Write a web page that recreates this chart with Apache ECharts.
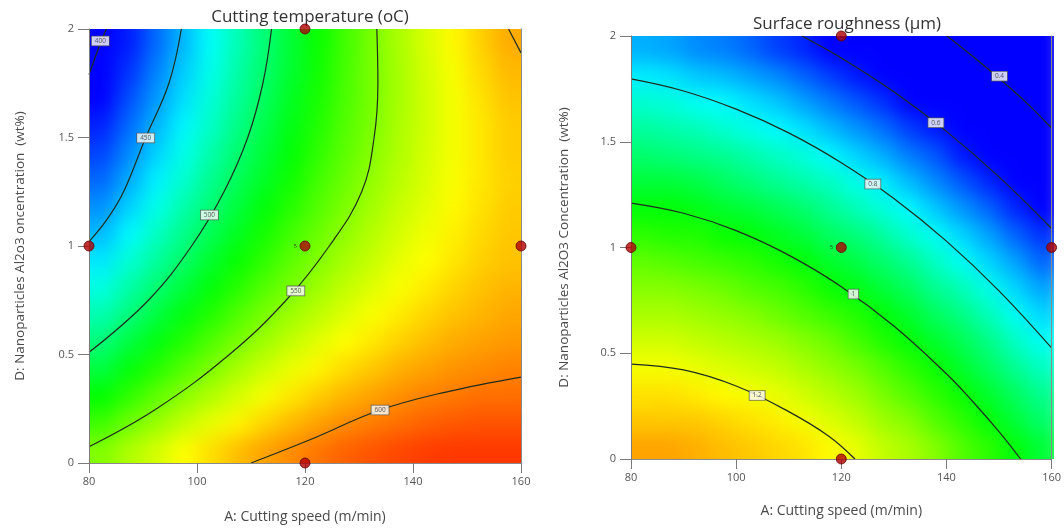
<!doctype html>
<html>
<head>
  <meta charset="UTF-8" />
  <title>Contour plots</title>
  <script src="https://cdn.jsdelivr.net/npm/echarts@6/dist/echarts.min.js"></script>
  <style>
    html, body { margin: 0; padding: 0; background: #ffffff; }
    #wrap { position: relative; width: 1064px; height: 531px; }
    #field, #chart { position: absolute; left: 0; top: 0; width: 1064px; height: 531px; }
    /* soften the cell edges of the response grid, kept inside the two plot areas */
    #field {
      filter: blur(10px);
      clip-path: path("M89 29 H521 V463 H89 Z M631 36 H1054 V459 H631 Z");
    }
  </style>
</head>
<body>
  <div id="wrap">
    <div id="field"></div>
    <div id="chart"></div>
  </div>
  <script>
    // cell centres of the response grids (A: cutting speed, D: Al2O3 wt%)
    const xCells = [82.5, 87.5, 92.5, 97.5, 102.5, 107.5, 112.5, 117.5, 122.5, 127.5, 132.5, 137.5, 142.5, 147.5, 152.5, 157.5];
    const yCells = [0.0625, 0.1875, 0.3125, 0.4375, 0.5625, 0.6875, 0.8125, 0.9375, 1.0625, 1.1875, 1.3125, 1.4375, 1.5625, 1.6875, 1.8125, 1.9375];

    // cutting temperature, rows from bottom (D = 0) to top (D = 2)
    const tempGrid = [
      [550, 560, 568, 577, 584, 591, 597, 602, 607, 611, 614, 617, 619, 620, 620, 620],
      [535, 546, 555, 564, 572, 579, 586, 592, 597, 602, 605, 608, 611, 613, 614, 614],
      [522, 532, 542, 552, 560, 568, 575, 582, 588, 593, 597, 601, 604, 606, 608, 608],
      [508, 520, 530, 540, 549, 558, 566, 573, 579, 585, 589, 594, 597, 600, 602, 604],
      [496, 508, 519, 529, 539, 548, 556, 564, 571, 577, 582, 587, 591, 595, 597, 599],
      [484, 496, 508, 519, 529, 539, 548, 556, 563, 570, 576, 581, 586, 590, 593, 596],
      [473, 486, 498, 509, 520, 530, 540, 548, 556, 564, 570, 576, 581, 586, 590, 593],
      [462, 476, 488, 500, 512, 523, 532, 542, 550, 558, 565, 572, 577, 582, 587, 590],
      [452, 466, 480, 492, 504, 515, 526, 536, 545, 553, 561, 568, 574, 580, 585, 589],
      [443, 457, 471, 485, 497, 509, 520, 530, 540, 549, 557, 565, 571, 578, 583, 588],
      [434, 449, 464, 477, 491, 503, 514, 525, 536, 545, 554, 562, 569, 576, 582, 587],
      [426, 442, 457, 471, 485, 498, 510, 521, 532, 542, 551, 560, 568, 575, 582, 588],
      [419, 435, 451, 465, 479, 493, 506, 518, 529, 540, 549, 559, 567, 575, 582, 588],
      [412, 429, 445, 460, 475, 489, 502, 515, 527, 538, 548, 558, 567, 575, 583, 590],
      [406, 423, 440, 456, 471, 486, 499, 512, 525, 537, 548, 558, 568, 576, 585, 592],
      [400, 418, 435, 452, 468, 483, 497, 511, 524, 536, 548, 559, 569, 578, 587, 595]
    ];

    // surface roughness, rows from bottom to top
    const roughGrid = [
      [1.28, 1.28, 1.27, 1.26, 1.25, 1.24, 1.23, 1.21, 1.19, 1.16, 1.14, 1.11, 1.07, 1.04, 1.00, 0.96],
      [1.25, 1.25, 1.25, 1.24, 1.23, 1.22, 1.20, 1.18, 1.16, 1.13, 1.11, 1.07, 1.04, 1.00, 0.96, 0.92],
      [1.23, 1.23, 1.22, 1.21, 1.20, 1.19, 1.17, 1.15, 1.13, 1.10, 1.07, 1.04, 1.01, 0.97, 0.93, 0.89],
      [1.20, 1.20, 1.19, 1.18, 1.17, 1.16, 1.14, 1.12, 1.10, 1.07, 1.04, 1.01, 0.97, 0.93, 0.89, 0.85],
      [1.17, 1.17, 1.16, 1.15, 1.14, 1.13, 1.11, 1.09, 1.06, 1.03, 1.00, 0.97, 0.94, 0.90, 0.85, 0.81],
      [1.14, 1.14, 1.13, 1.12, 1.11, 1.09, 1.07, 1.05, 1.03, 1.00, 0.97, 0.93, 0.90, 0.86, 0.81, 0.77],
      [1.11, 1.11, 1.10, 1.09, 1.07, 1.06, 1.04, 1.01, 0.99, 0.96, 0.93, 0.89, 0.86, 0.82, 0.77, 0.73],
      [1.08, 1.07, 1.06, 1.05, 1.04, 1.02, 1.00, 0.97, 0.95, 0.92, 0.89, 0.85, 0.81, 0.77, 0.73, 0.68],
      [1.04, 1.03, 1.03, 1.01, 1.00, 0.98, 0.96, 0.93, 0.91, 0.88, 0.84, 0.81, 0.77, 0.73, 0.68, 0.64],
      [1.00, 1.00, 0.99, 0.97, 0.96, 0.94, 0.92, 0.89, 0.86, 0.83, 0.80, 0.76, 0.72, 0.68, 0.63, 0.59],
      [0.96, 0.96, 0.95, 0.93, 0.91, 0.89, 0.87, 0.85, 0.82, 0.79, 0.75, 0.71, 0.67, 0.63, 0.59, 0.54],
      [0.92, 0.91, 0.90, 0.89, 0.87, 0.85, 0.83, 0.80, 0.77, 0.74, 0.70, 0.67, 0.62, 0.58, 0.53, 0.48],
      [0.88, 0.87, 0.86, 0.84, 0.82, 0.80, 0.78, 0.75, 0.72, 0.69, 0.65, 0.62, 0.57, 0.53, 0.48, 0.43],
      [0.84, 0.83, 0.81, 0.80, 0.78, 0.76, 0.73, 0.70, 0.67, 0.64, 0.60, 0.56, 0.52, 0.47, 0.43, 0.38],
      [0.79, 0.78, 0.76, 0.75, 0.73, 0.71, 0.68, 0.65, 0.62, 0.59, 0.55, 0.51, 0.46, 0.42, 0.37, 0.32],
      [0.74, 0.73, 0.71, 0.70, 0.68, 0.65, 0.63, 0.60, 0.57, 0.53, 0.49, 0.45, 0.41, 0.36, 0.31, 0.26]
    ];

    // contour lines: [A, D]
    const tempContours = [
      [[83.2, 2], [81.6, 1.9], [80, 1.79]],
      [[97.1, 2], [94.8, 1.75], [90.5, 1.5], [86.4, 1.25], [83.4, 1.125], [80, 1.02]],
      [[113.8, 2], [112.2, 1.75], [109.4, 1.5], [105, 1.25], [99, 1], [91, 0.75], [80, 0.51]],
      [[133.3, 2], [133.5, 1.75], [132.8, 1.5], [130.5, 1.25], [124.5, 1], [116.5, 0.75], [106, 0.5], [92.5, 0.25], [80, 0.075]],
      [[110, 0], [120.8, 0.106], [133.9, 0.244], [146.1, 0.327], [160, 0.396]],
      [[157.7, 2], [160, 1.89]]
    ];
    const roughContours = [
      [[140.1, 2], [145, 1.904], [150, 1.8], [155, 1.69], [160, 1.565]],
      [[112.5, 2], [120, 1.896], [130, 1.736], [140, 1.549], [150, 1.334], [160, 1.09]],
      [[80, 1.797], [90, 1.74], [100, 1.654], [110, 1.542], [120, 1.401], [130, 1.232], [140, 1.03], [150, 0.795], [160, 0.525]],
      [[80, 1.21], [90, 1.162], [100, 1.08], [110, 0.964], [120, 0.815], [130, 0.629], [140, 0.403], [145, 0.272], [150, 0.129], [154.1, 0]],
      [[80, 0.449], [90, 0.421], [100, 0.345], [110, 0.224], [117.5, 0.11], [122.6, 0]]
    ];

    const tempLabels = [[82.1, 1.945, "400"], [90.5, 1.498, "450"], [102.3, 1.143, "500"], [118.3, 0.793, "550"], [133.9, 0.244, "600"]];
    const roughLabels = [[150.1, 1.81, "0.4"], [138, 1.59, "0.6"], [126, 1.3, "0.8"], [122.3, 0.78, "1"], [104, 0.3, "1.2"]];

    const designPoints = [[80, 1], [120, 1], [160, 1], [120, 2], [120, 0]];
    const centreRuns = [[120, 1, "5"]];

    const rampColors = ["#0000ff", "#00ffff", "#00ff00", "#ffff00", "#ff0000"];

    const grids = [
      { left: 89, top: 29, width: 432, height: 434 },
      { left: 631, top: 36, width: 423, height: 423 },
    ];

    // ---------- colour field layer ----------
    const field = echarts.init(document.getElementById("field"));

    const toCells = (grid) => {
      const out = [];
      grid.forEach((row, j) => row.forEach((v, i) => out.push([xCells[i], yCells[j], v])));
      return out;
    };

    const hw = (xCells[1] - xCells[0]) / 2;
    const hh = (yCells[1] - yCells[0]) / 2;
    const bleed = 40; // edge cells reach past the frame so the blur keeps full colour there
    const renderCell = (params, api) => {
      const x = api.value(0), y = api.value(1);
      const p0 = api.coord([x - hw, y + hh]);
      const p1 = api.coord([x + hw, y - hh]);
      let x0 = p0[0], y0 = p0[1], x1 = p1[0] + 0.7, y1 = p1[1] + 0.7;
      if (x === xCells[0]) x0 -= bleed;
      if (x === xCells[xCells.length - 1]) x1 += bleed;
      if (y === yCells[0]) y1 += bleed;
      if (y === yCells[yCells.length - 1]) y0 -= bleed;
      return {
        type: "rect",
        shape: { x: x0, y: y0, width: x1 - x0, height: y1 - y0 },
        style: { fill: api.visual("color") },
      };
    };

    const hiddenX = (g) => ({ type: "value", gridIndex: g, min: 80, max: 160, show: false });
    const hiddenY = (g) => ({ type: "value", gridIndex: g, min: 0, max: 2, show: false });

    field.setOption({
      animation: false,
      grid: grids,
      xAxis: [hiddenX(0), hiddenX(1)],
      yAxis: [hiddenY(0), hiddenY(1)],
      visualMap: [
        { type: "continuous", show: false, seriesIndex: 0, dimension: 2, min: 412, max: 632, inRange: { color: rampColors } },
        { type: "continuous", show: false, seriesIndex: 1, dimension: 2, min: 0.6, max: 1.41, inRange: { color: rampColors } },
      ],
      series: [
        { type: "custom", xAxisIndex: 0, yAxisIndex: 0, data: toCells(tempGrid), renderItem: renderCell, clip: false, silent: true },
        { type: "custom", xAxisIndex: 1, yAxisIndex: 1, data: toCells(roughGrid), renderItem: renderCell, clip: false, silent: true },
      ],
    });

    // ---------- axes, contours and points ----------
    const chart = echarts.init(document.getElementById("chart"));

    const xAxisFor = (grid, gap) => ({
      type: "value", gridIndex: grid, min: 80, max: 160, interval: 20, z: 5,
      name: "A: Cutting speed (m/min)", nameLocation: "middle", nameGap: gap,
      nameTextStyle: { fontSize: 14, color: "#4a4a4a" },
      axisLine: { show: true, lineStyle: { color: "#7a7a7a" } },
      axisTick: { show: true, length: 10, lineStyle: { color: "#7a7a7a" } },
      axisLabel: { fontSize: 11, color: "#555", margin: 13 },
      splitLine: { show: false },
    });
    const yAxisFor = (grid, name, gap) => ({
      type: "value", gridIndex: grid, min: 0, max: 2, interval: 0.5, z: 5,
      name: name, nameLocation: "middle", nameGap: gap,
      nameTextStyle: { fontSize: 13.5, color: "#4a4a4a" },
      axisLine: { show: true, lineStyle: { color: "#7a7a7a" } },
      axisTick: { show: true, length: 11, lineStyle: { color: "#7a7a7a" } },
      axisLabel: { fontSize: 11, color: "#555", margin: 15 },
      splitLine: { show: false },
    });
    const frameX = (grid) => ({
      type: "value", gridIndex: grid, position: "top", min: 80, max: 160, z: 5,
      axisLine: { show: true, lineStyle: { color: "#8a8a8a" } },
      axisTick: { show: false }, axisLabel: { show: false }, splitLine: { show: false },
    });
    const frameY = (grid) => ({
      type: "value", gridIndex: grid, position: "right", min: 0, max: 2, z: 5,
      axisLine: { show: true, lineStyle: { color: "#8a8a8a" } },
      axisTick: { show: false }, axisLabel: { show: false }, splitLine: { show: false },
    });

    const contourSeries = (lines, ax) => lines.map((pts) => ({
      type: "line", xAxisIndex: ax, yAxisIndex: ax, data: pts, smooth: 0.4,
      showSymbol: false, symbol: "none", silent: true, z: 3,
      lineStyle: { color: "#1f2d1f", width: 1.2 },
    }));

    const labelSeries = (labels, ax) => ({
      type: "scatter", xAxisIndex: ax, yAxisIndex: ax, data: labels, symbolSize: 0, z: 4, clip: false,
      label: {
        show: true, position: "inside", formatter: (p) => p.data[2],
        fontSize: 6.5, color: "#333", backgroundColor: "#ffffff",
        borderColor: "#555", borderWidth: 0.8, padding: [1, 3],
      },
    });

    const pointSeries = (ax) => ({
      type: "scatter", xAxisIndex: ax, yAxisIndex: ax, data: designPoints, symbolSize: 10, z: 6, clip: false,
      itemStyle: { color: "#b00000", borderColor: "#650000", borderWidth: 1 },
    });

    const runSeries = (ax) => ({
      type: "scatter", xAxisIndex: ax, yAxisIndex: ax, data: centreRuns, symbolSize: 0, z: 6, clip: false,
      label: { show: true, position: "left", distance: 8, formatter: (p) => p.data[2], fontSize: 6, color: "#222" },
    });

    chart.setOption({
      animation: false,
      textStyle: { fontFamily: "Open Sans" },
      title: [
        { text: "Cutting temperature (oC)", left: 305, top: 4, textAlign: "center",
          textStyle: { fontSize: 17, fontWeight: "normal", color: "#333" } },
        { text: "Surface roughness (µm)", left: 842, top: 11, textAlign: "center",
          textStyle: { fontSize: 17, fontWeight: "normal", color: "#333" } },
      ],
      grid: grids,
      xAxis: [xAxisFor(0, 47), xAxisFor(1, 45), frameX(0), frameX(1)],
      yAxis: [
        yAxisFor(0, "D: Nanoparticles Al2o3 oncentration  (wt%)", 62),
        yAxisFor(1, "D: Nanoparticles Al2O3 Concentration  (wt%)", 60),
        frameY(0), frameY(1),
      ],
      series: [
        ...contourSeries(tempContours, 0),
        ...contourSeries(roughContours, 1),
        labelSeries(tempLabels, 0),
        labelSeries(roughLabels, 1),
        pointSeries(0),
        pointSeries(1),
        runSeries(0),
        runSeries(1),
      ],
    });

    window.addEventListener("resize", () => { field.resize(); chart.resize(); });
  </script>
</body>
</html>
